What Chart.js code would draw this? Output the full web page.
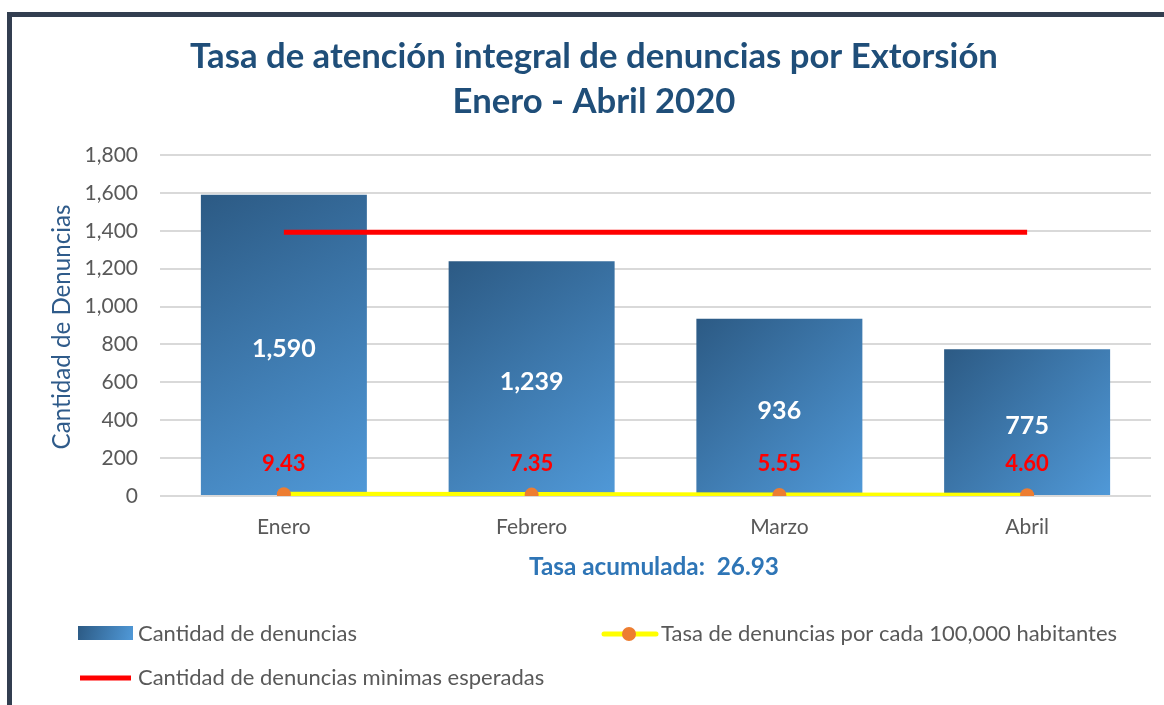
<!DOCTYPE html>
<html><head><meta charset="utf-8">
<script src="https://cdn.jsdelivr.net/npm/chart.js@4.4.1/dist/chart.umd.min.js"></script>
<style>html,body{margin:0;padding:0;background:#fff;overflow:hidden}#c{display:block}</style>
</head><body>
<canvas id="c" width="1164" height="705"></canvas>
<script>
// ---- data ----
const categories = ['Enero', 'Febrero', 'Marzo', 'Abril'];
const denuncias = [1590, 1239, 936, 775];
const tasa = [9.43, 7.35, 5.55, 4.60];
const minimasEsperadas = [1392, 1392, 1392, 1392];
const yTickValues = [0, 200, 400, 600, 800, 1000, 1200, 1400, 1600, 1800];
const titleLines = ['Tasa de atención integral de denuncias por Extorsión', 'Enero - Abril 2020'];
const yAxisTitle = 'Cantidad de Denuncias';
const tasaAcumuladaText = 'Tasa acumulada:  26.93';
const legendLabels = ['Cantidad de denuncias', 'Tasa de denuncias por cada 100,000 habitantes', 'Cantidad de denuncias mìnimas esperadas'];

const FONT = 'Lato, "Open Sans", sans-serif';
const GRAY = '#595959';

function fitFont(ctx, text, weight, target, base) {
  ctx.font = weight + ' ' + base + 'px ' + FONT;
  const w = ctx.measureText(text).width;
  return base * target / w;
}

function barGradient(ctx, x0, y0, x1, y1) {
  const g = ctx.createLinearGradient(x0, y0, x1, y1);
  g.addColorStop(0, '#2c5a84');
  g.addColorStop(1, '#5099d8');
  return g;
}

const decorPlugin = {
  id: 'decor',
  beforeDraw(chart) {
    const ctx = chart.ctx;
    ctx.save();
    ctx.fillStyle = '#fff';
    ctx.fillRect(0, 0, chart.width, chart.height);
    // frame
    ctx.fillStyle = '#323e50';
    ctx.fillRect(7, 12, chart.width, 5);
    ctx.fillRect(7, 12, 5, chart.height);
    ctx.restore();
  },
  afterDraw(chart) {
    const ctx = chart.ctx;
    ctx.save();
    // title
    ctx.fillStyle = '#1f4e79';
    ctx.textAlign = 'center';
    ctx.textBaseline = 'middle';
    let fs = fitFont(ctx, titleLines[0], 'bold', 808, 30);
    ctx.font = 'bold ' + fs.toFixed(2) + 'px ' + FONT;
    ctx.fillText(titleLines[0], 594, 57);
    ctx.fillText(titleLines[1], 594, 102);
    // y axis title
    ctx.save();
    ctx.translate(62, 327);
    ctx.rotate(-Math.PI / 2);
    ctx.fillStyle = '#2f5b8a';
    fs = fitFont(ctx, yAxisTitle, 'normal', 245, 20);
    ctx.font = fs.toFixed(2) + 'px ' + FONT;
    ctx.fillText(yAxisTitle, 0, 0);
    ctx.restore();
    // bar value labels
    const barMeta = chart.getDatasetMeta(0);
    ctx.fillStyle = '#ffffff';
    ctx.font = 'bold 25px ' + FONT;
    barMeta.data.forEach((el, i) => {
      const cy = (el.y + el.base) / 2 + 4;
      ctx.fillText(denuncias[i].toLocaleString('en-US'), el.x, cy);
    });
    // tasa labels
    const tMeta = chart.getDatasetMeta(1);
    ctx.fillStyle = '#ff0000';
    ctx.font = 'bold 22px ' + FONT;
    tMeta.data.forEach((el, i) => {
      ctx.fillText(tasa[i].toFixed(2), el.x, chart.scales.y.getPixelForValue(0) - 32);
    });
    // tasa acumulada
    ctx.fillStyle = '#2e75b6';
    fs = fitFont(ctx, tasaAcumuladaText, 'bold', 250, 19);
    ctx.font = 'bold ' + fs.toFixed(2) + 'px ' + FONT;
    ctx.fillText(tasaAcumuladaText, 654, 567);
    // legend
    ctx.textAlign = 'left';
    ctx.fillStyle = barGradient(ctx, 78, 626, 133, 640);
    ctx.fillRect(78, 626, 55, 14);
    ctx.fillStyle = GRAY;
    fs = fitFont(ctx, legendLabels[0], 'normal', 219, 18);
    ctx.font = fs.toFixed(2) + 'px ' + FONT;
    ctx.fillText(legendLabels[0], 138, 634);
    ctx.fillText(legendLabels[2], 138, 678);
    ctx.fillText(legendLabels[1], 661, 634);
    // yellow line + orange marker
    ctx.strokeStyle = '#ffff00';
    ctx.lineWidth = 5;
    ctx.lineCap = 'round';
    ctx.beginPath(); ctx.moveTo(604, 634); ctx.lineTo(656, 634); ctx.stroke();
    ctx.fillStyle = '#ed7d31';
    ctx.beginPath(); ctx.arc(629, 634, 7, 0, Math.PI * 2); ctx.fill();
    // red line
    ctx.strokeStyle = '#ff0000';
    ctx.lineCap = 'butt';
    ctx.beginPath(); ctx.moveTo(80, 678); ctx.lineTo(131, 678); ctx.stroke();
    ctx.restore();
  }
};

new Chart(document.getElementById('c'), {
  data: {
    labels: categories,
    datasets: [
      {
        type: 'bar', label: legendLabels[0], data: denuncias, order: 3,
        categoryPercentage: 1, barPercentage: 0.67,
        backgroundColor: (c) => {
          const ch = c.chart;
          if (!ch.chartArea || c.dataIndex === undefined) return '#3f7ab5';
          const xs = ch.scales.x, ys = ch.scales.y;
          const cx = xs.getPixelForValue(c.dataIndex);
          const half = xs.width / categories.length * 0.67 / 2;
          return barGradient(ch.ctx, cx - half, ys.getPixelForValue(denuncias[c.dataIndex]), cx + half, ys.getPixelForValue(0));
        },
        borderWidth: 0
      },
      {
        type: 'line', label: legendLabels[1], data: tasa, order: 1,
        borderColor: '#ffff00', borderWidth: 5, backgroundColor: '#ed7d31',
        pointBackgroundColor: '#ed7d31', pointBorderWidth: 0, pointRadius: 7, tension: 0
      },
      {
        type: 'line', label: legendLabels[2], data: minimasEsperadas, order: 2,
        borderColor: '#ff0000', borderWidth: 5, pointRadius: 0, tension: 0
      }
    ]
  },
  options: {
    responsive: false, animation: false, devicePixelRatio: 1,
    layout: { padding: { left: 0, right: 13, top: 155, bottom: 169 } },
    plugins: { legend: { display: false }, tooltip: { enabled: false }, title: { display: false } },
    scales: {
      x: {
        grid: { display: false, drawTicks: false },
        border: { display: false },
        ticks: { color: GRAY, font: { family: FONT, size: 21 }, padding: 19 },
        afterFit: (s) => { s.height = 40; }
      },
      y: {
        min: 0, max: 1800,
        afterBuildTicks: (s) => { s.ticks = yTickValues.map(v => ({ value: v })); },
        grid: { color: '#d9d9d9', lineWidth: 2, drawTicks: false },
        border: { display: false },
        ticks: { color: GRAY, font: { family: FONT, size: 21 }, padding: 22,
          callback: (v) => v.toLocaleString('en-US') },
        afterFit: (s) => { s.width = 160; }
      }
    }
  },
  plugins: [decorPlugin]
});
</script>
</body></html>
